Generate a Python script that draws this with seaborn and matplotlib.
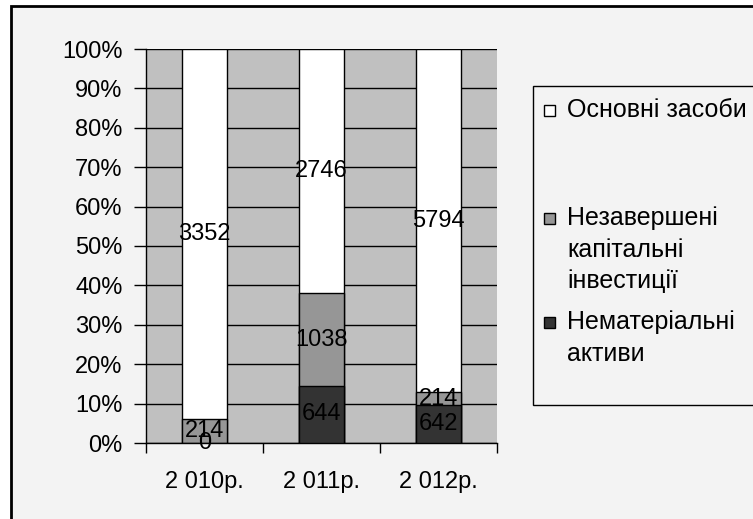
import matplotlib
matplotlib.use("Agg")
import matplotlib.pyplot as plt
from matplotlib.patches import Rectangle
import numpy as np
import pandas as pd
import seaborn as sns

# data
years = ["2 010р.", "2 011р.", "2 012р."]
nemat = [0, 644, 642]          # Нематеріальні активи
nezav = [214, 1038, 214]       # Незавершені капітальні інвестиції
osnovni = [3352, 2746, 5794]   # Основні засоби
legend_lines = [["Основні засоби"],
                ["Незавершені", "капітальні", "інвестиції"],
                ["Нематеріальні", "активи"]]
colors = ["white", "#969696", "#333333"]

sns.set_style("white", rc={"axes.edgecolor": "black", "text.color": "black",
                           "xtick.color": "black", "ytick.color": "black",
                           "axes.labelcolor": "black"})
plt.rcParams["font.family"] = ["Liberation Sans", "DejaVu Sans"]
plt.rcParams["font.size"] = 17

df = pd.DataFrame({"year": years, "nemat": nemat, "nezav": nezav, "osnovni": osnovni})
total = df[["nemat", "nezav", "osnovni"]].sum(axis=1)
df["p1"] = df["nemat"] / total * 100
df["p2"] = (df["nemat"] + df["nezav"]) / total * 100
df["p3"] = (df["nemat"] + df["nezav"] + df["osnovni"]) / total * 100

W, H = 753, 519
fig = plt.figure(figsize=(W / 100, H / 100), dpi=100, facecolor="white")
fig.patches.append(Rectangle((11 / W, -0.1), 1.2, 1.1 - 6 / H, transform=fig.transFigure,
                             facecolor="#f3f3f3", edgecolor="black", lw=2, zorder=-5))

ax = fig.add_axes([146 / W, 76 / H, 351 / W, 394 / H])
ax.set_zorder(2)
ax.set_facecolor("#c0c0c0")
ax.set_axisbelow(True)
ax.yaxis.grid(True, color="black", lw=1)

for col, c in [("p3", colors[0]), ("p2", colors[1]), ("p1", colors[2])]:
    sns.barplot(data=df, x="year", y=col, color=c, saturation=1, width=0.39,
                edgecolor="black", linewidth=1, ax=ax, zorder=3)

# value labels in the middle of each segment
for i, row in df.iterrows():
    ax.text(i, row["p1"] / 2, f"{row['nemat']}", ha="center", va="center", zorder=5)
    ax.text(i, (row["p1"] + row["p2"]) / 2, f"{row['nezav']}", ha="center", va="center", zorder=5)
    ax.text(i, (row["p2"] + row["p3"]) / 2, f"{row['osnovni']}", ha="center", va="center", zorder=5)

ax.set_xlim(-0.5, 2.5)
ax.set_ylim(0, 100)
ax.set_yticks(np.arange(0, 101, 10))
ax.set_yticklabels([f"{v}%" for v in range(0, 101, 10)])
ax.set_xlabel("")
ax.set_ylabel("")
ax.set_xticks([-0.5, 0.5, 1.5, 2.5], minor=True)
ax.tick_params(axis="x", which="major", length=0, pad=20)
ax.tick_params(axis="x", which="minor", length=7, width=1, direction="out")
ax.tick_params(axis="y", length=9, width=1, direction="out", pad=8, left=True)
ax.tick_params(axis="x", bottom=True, which="both")
for s in ["top", "right"]:
    ax.spines[s].set_visible(False)
ax.spines["left"].set_linewidth(1)
ax.spines["bottom"].set_linewidth(1)

# legend drawn by hand (Excel style spacing)
fig.patches.append(Rectangle((533 / W, (H - 405) / H), 0.5, (405 - 86) / H,
                             transform=fig.transFigure, facecolor="#f3f3f3",
                             edgecolor="black", lw=1, zorder=1))
line_y = [[110], [218, 250, 281], [322, 354]]
for lines, ys, c in zip(legend_lines, line_y, colors):
    fig.patches.append(Rectangle((544 / W, (H - ys[0] - 5.5) / H), 11 / W, 11 / H,
                                 transform=fig.transFigure, facecolor=c,
                                 edgecolor="black", lw=1, zorder=2))
    for txt, y in zip(lines, ys):
        fig.text(567 / W, (H - y) / H, txt, ha="left", va="center", fontsize=18, zorder=3)

fig.savefig("out.png", dpi=100, facecolor="white")
